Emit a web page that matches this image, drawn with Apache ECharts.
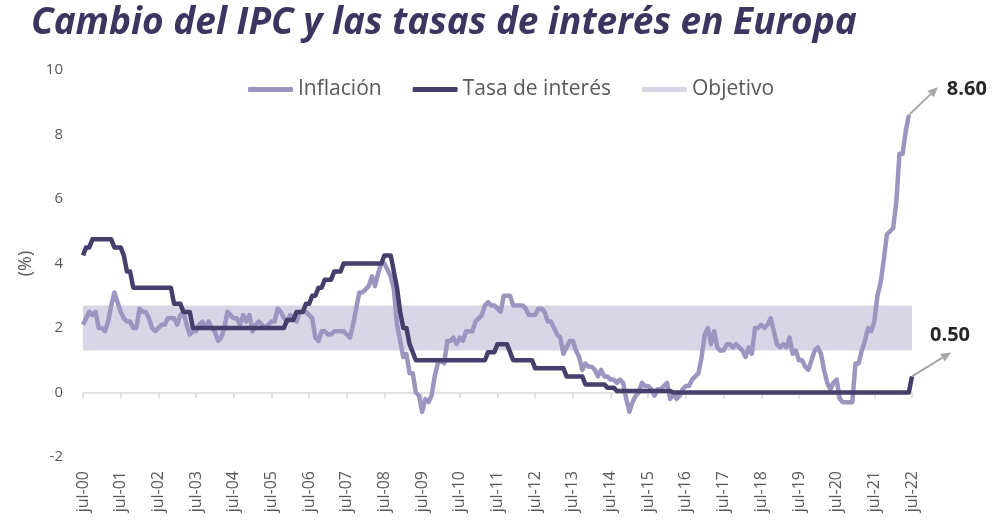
<!DOCTYPE html>
<html>
<head>
<meta charset="utf-8">
<script src="https://cdn.jsdelivr.net/npm/echarts@6/dist/echarts.min.js"></script>
<style>
html,body{margin:0;padding:0;background:#fff;}
#chart{width:992px;height:521px;}
</style>
</head>
<body>
<div id="chart"></div>
<script>
// Months jul-00 .. jul-22
const months = ['ene','feb','mar','abr','may','jun','jul','ago','sep','oct','nov','dic'];
const categories = [];
for (let y = 2000; y <= 2022; y++) {
  for (let m = 0; m < 12; m++) {
    if (y === 2000 && m < 6) continue;
    if (y === 2022 && m > 6) continue;
    categories.push(months[m] + '-' + String(y % 100).padStart(2, '0'));
  }
}

// Inflación (%), monthly from jul-00
const inflacion = [
  2.1, 2.3, 2.5, 2.4, 2.5, 2.0,
  2.0, 1.9, 2.2, 2.7, 3.1, 2.8, 2.5, 2.3, 2.2, 2.2, 2.0, 2.0,
  2.6, 2.5, 2.5, 2.3, 2.0, 1.9, 2.0, 2.1, 2.1, 2.3, 2.3, 2.3,
  2.1, 2.4, 2.5, 2.1, 1.8, 1.9, 1.9, 2.1, 2.2, 2.0, 2.2, 2.0,
  1.9, 1.6, 1.7, 2.0, 2.5, 2.4, 2.3, 2.3, 2.1, 2.4, 2.2, 2.4,
  1.9, 2.1, 2.2, 2.1, 2.0, 2.1, 2.2, 2.2, 2.6, 2.5, 2.3, 2.2,
  2.4, 2.3, 2.2, 2.5, 2.5, 2.5, 2.4, 2.3, 1.7, 1.6, 1.9, 1.9,
  1.8, 1.8, 1.9, 1.9, 1.9, 1.9, 1.8, 1.7, 2.1, 2.6, 3.1, 3.1,
  3.2, 3.3, 3.6, 3.3, 3.7, 4.0, 4.0, 3.8, 3.6, 3.2, 2.1, 1.6,
  1.1, 1.2, 0.6, 0.6, 0.0, -0.1, -0.6, -0.2, -0.3, -0.1, 0.5, 0.9,
  1.0, 0.9, 1.6, 1.6, 1.7, 1.5, 1.7, 1.6, 1.9, 1.9, 1.9, 2.2,
  2.3, 2.4, 2.7, 2.8, 2.7, 2.7, 2.6, 2.5, 3.0, 3.0, 3.0, 2.7,
  2.7, 2.7, 2.7, 2.6, 2.4, 2.4, 2.4, 2.6, 2.6, 2.5, 2.2, 2.2,
  2.0, 1.8, 1.7, 1.2, 1.4, 1.6, 1.6, 1.3, 1.1, 0.7, 0.9, 0.8,
  0.8, 0.7, 0.5, 0.7, 0.5, 0.5, 0.4, 0.4, 0.3, 0.4, 0.3, -0.2,
  -0.6, -0.3, -0.1, 0.0, 0.3, 0.2, 0.2, 0.1, -0.1, 0.1, 0.1, 0.2,
  0.3, -0.2, 0.0, -0.2, -0.1, 0.1, 0.2, 0.2, 0.4, 0.5, 0.6, 1.1,
  1.8, 2.0, 1.5, 1.9, 1.4, 1.3, 1.3, 1.5, 1.5, 1.4, 1.5, 1.4,
  1.3, 1.1, 1.4, 1.2, 2.0, 2.0, 2.1, 2.0, 2.1, 2.3, 1.9, 1.5,
  1.4, 1.5, 1.4, 1.7, 1.2, 1.3, 1.0, 1.0, 0.8, 0.7, 1.0, 1.3,
  1.4, 1.2, 0.7, 0.3, 0.1, 0.3, 0.4, -0.2, -0.3, -0.3, -0.3, -0.3,
  0.9, 0.9, 1.3, 1.6, 2.0, 1.9, 2.2, 3.0, 3.4, 4.1, 4.9, 5.0,
  5.1, 5.9, 7.4, 7.4, 8.1, 8.6, null
];

// Tasa de interés (%), monthly from jul-00
const tasa = [
  4.25, 4.5, 4.5, 4.75, 4.75, 4.75,
  4.75, 4.75, 4.75, 4.75, 4.5, 4.5, 4.5, 4.25, 3.75, 3.75, 3.25, 3.25,
  3.25, 3.25, 3.25, 3.25, 3.25, 3.25, 3.25, 3.25, 3.25, 3.25, 3.25, 2.75,
  2.75, 2.75, 2.5, 2.5, 2.5, 2.0, 2.0, 2.0, 2.0, 2.0, 2.0, 2.0,
  2.0, 2.0, 2.0, 2.0, 2.0, 2.0, 2.0, 2.0, 2.0, 2.0, 2.0, 2.0,
  2.0, 2.0, 2.0, 2.0, 2.0, 2.0, 2.0, 2.0, 2.0, 2.0, 2.0, 2.25,
  2.25, 2.25, 2.5, 2.5, 2.5, 2.75, 2.75, 3.0, 3.0, 3.25, 3.25, 3.5,
  3.5, 3.5, 3.75, 3.75, 3.75, 4.0, 4.0, 4.0, 4.0, 4.0, 4.0, 4.0,
  4.0, 4.0, 4.0, 4.0, 4.0, 4.0, 4.25, 4.25, 4.25, 3.75, 3.25, 2.5,
  2.0, 2.0, 1.5, 1.25, 1.0, 1.0, 1.0, 1.0, 1.0, 1.0, 1.0, 1.0,
  1.0, 1.0, 1.0, 1.0, 1.0, 1.0, 1.0, 1.0, 1.0, 1.0, 1.0, 1.0,
  1.0, 1.0, 1.0, 1.25, 1.25, 1.25, 1.5, 1.5, 1.5, 1.5, 1.25, 1.0,
  1.0, 1.0, 1.0, 1.0, 1.0, 1.0, 0.75, 0.75, 0.75, 0.75, 0.75, 0.75,
  0.75, 0.75, 0.75, 0.75, 0.5, 0.5, 0.5, 0.5, 0.5, 0.5, 0.25, 0.25,
  0.25, 0.25, 0.25, 0.25, 0.25, 0.15, 0.15, 0.15, 0.05, 0.05, 0.05, 0.05,
  0.05, 0.05, 0.05, 0.05, 0.05, 0.05, 0.05, 0.05, 0.05, 0.05, 0.05, 0.05,
  0.05, 0.05, 0, 0, 0, 0, 0, 0, 0, 0, 0, 0,
  0, 0, 0, 0, 0, 0, 0, 0, 0, 0, 0, 0,
  0, 0, 0, 0, 0, 0, 0, 0, 0, 0, 0, 0,
  0, 0, 0, 0, 0, 0, 0, 0, 0, 0, 0, 0,
  0, 0, 0, 0, 0, 0, 0, 0, 0, 0, 0, 0,
  0, 0, 0, 0, 0, 0, 0, 0, 0, 0, 0, 0,
  0, 0, 0, 0, 0, 0, 0.5
];

// Objetivo band (%)
const objetivoBajo = 1.3;
const objetivoAlto = 2.7;

// Y axis ticks
const yMin = -2, yMax = 10, yStep = 2;

const C_INF = '#9b96c0';
const C_TASA = '#453f6b';
const C_OBJ = '#d8d5e6';
const FONT = '"Open Sans", sans-serif';

const bandBase = categories.map(() => objetivoBajo);
const bandWidth = categories.map(() => +(objetivoAlto - objetivoBajo).toFixed(2));

const chart = echarts.init(document.getElementById('chart'));
chart.setOption({
  animation: false,
  backgroundColor: '#ffffff',
  title: {
    text: 'Cambio del IPC y las tasas de interés en Europa',
    left: 26, top: 0,
    textStyle: { fontFamily: FONT, fontSize: 37, fontWeight: 'bold', fontStyle: 'italic', color: '#3b365f' }
  },
  legend: {
    top: 74, left: 243,
    itemWidth: 45, itemHeight: 5, itemGap: 31,
    icon: 'roundRect',
    textStyle: { fontFamily: FONT, fontSize: 21, color: '#595959' },
    data: ['Inflación', 'Tasa de interés', 'Objetivo']
  },
  grid: { left: 83, right: 80, top: 70, bottom: 64 },
  xAxis: [{
    type: 'category', data: categories, boundaryGap: false,
    axisLine: { onZero: true, lineStyle: { color: '#d9d9d9', width: 1.5 } },
    axisTick: { show: true, interval: 11, length: 6, lineStyle: { color: '#d9d9d9', width: 1.5 } },
    axisLabel: { show: false }, splitLine: { show: false }
  }, {
    type: 'category', data: categories, boundaryGap: false, position: 'bottom',
    axisLine: { show: false, onZero: false }, axisTick: { show: false },
    axisLabel: { interval: 11, rotate: 90, margin: 14, fontFamily: FONT, fontSize: 16, color: '#595959' },
    splitLine: { show: false }
  }],
  yAxis: {
    type: 'value', min: yMin, max: yMax, interval: yStep,
    name: '(%)', nameLocation: 'middle', nameGap: 45, nameRotate: 90,
    nameTextStyle: { fontFamily: FONT, fontSize: 18, color: '#595959' },
    axisLine: { show: false }, axisTick: { show: false }, splitLine: { show: false },
    axisLabel: { fontFamily: FONT, fontSize: 15, color: '#595959', margin: 20 }
  },
  series: [{
    name: 'ObjBase', type: 'line', stack: 'obj', data: bandBase,
    symbol: 'none', lineStyle: { width: 0, opacity: 0 }, silent: true, z: 1
  }, {
    name: 'Objetivo', type: 'line', stack: 'obj', data: bandWidth,
    symbol: 'none', lineStyle: { width: 0, opacity: 0 },
    itemStyle: { color: C_OBJ }, areaStyle: { color: C_OBJ, opacity: 1 }, silent: true, z: 1
  }, {
    name: 'Inflación', type: 'line', data: inflacion, symbol: 'none',
    lineStyle: { color: C_INF, width: 4.5, join: 'round' }, itemStyle: { color: C_INF }, z: 3
  }, {
    name: 'Tasa de interés', type: 'line', data: tasa, symbol: 'none',
    lineStyle: { color: C_TASA, width: 4.5, join: 'round' }, itemStyle: { color: C_TASA }, z: 4
  }]
});

// End annotations with arrows, positioned from the data points
function arrowGraphic(p, dx, dy, text, tx, ty) {
  const ex = p[0] + dx, ey = p[1] + dy;
  const ang = Math.atan2(dy, dx);
  const L = 10, W = 4.5;
  const bx = ex - L * Math.cos(ang), by = ey - L * Math.sin(ang);
  const nx = -Math.sin(ang), ny = Math.cos(ang);
  return [{
    type: 'line', silent: true, z: 10,
    shape: { x1: p[0], y1: p[1], x2: bx, y2: by },
    style: { stroke: '#a6a6a6', lineWidth: 2 }
  }, {
    type: 'polygon', silent: true, z: 10,
    shape: { points: [[ex, ey], [bx + nx * W, by + ny * W], [bx - nx * W, by - ny * W]] },
    style: { fill: '#a6a6a6' }
  }, {
    type: 'text', silent: true, z: 10,
    style: { x: p[0] + tx, y: p[1] + ty, text: text, font: 'bold 20px "Open Sans", sans-serif', fill: '#262626', textVerticalAlign: 'middle' }
  }];
}
const iInf = 264 - 1, iTasa = 264;
const pInf = chart.convertToPixel({ xAxisIndex: 0, yAxisIndex: 0 }, [iInf, inflacion[iInf]]);
const pTasa = chart.convertToPixel({ xAxisIndex: 0, yAxisIndex: 0 }, [iTasa, tasa[iTasa]]);
chart.setOption({
  graphic: [].concat(
    arrowGraphic(pInf, 29, -28, inflacion[iInf].toFixed(2), 38, -26),
    arrowGraphic(pTasa, 39, -24, tasa[iTasa].toFixed(2), 18, -41)
  )
});
</script>
</body>
</html>
